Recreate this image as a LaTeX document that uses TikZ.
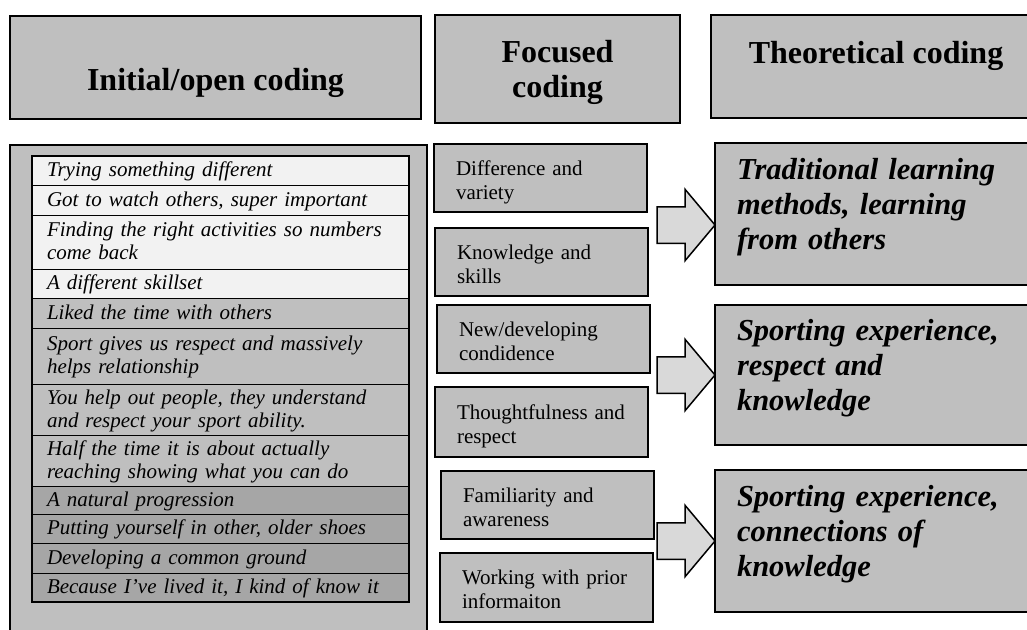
\documentclass[tikz,border=0pt]{standalone}
\usepackage{fontspec}
\setmainfont{Liberation Serif}
\usepackage{xcolor}
\usetikzlibrary{positioning,shapes.arrows}
\definecolor{boxgray}{HTML}{BFBFBF}
\definecolor{rowlight}{HTML}{F2F2F2}
\definecolor{rowdark}{HTML}{A6A6A6}
\definecolor{arrowgray}{HTML}{D9D9D9}
\newcommand{\headfont}{\fontsize{32}{35}\selectfont\bfseries}
\newcommand{\rowfont}{\fontsize{21}{23}\selectfont\itshape}
\newcommand{\focusfont}{\fontsize{21}{24}\selectfont}
\newcommand{\theoryfont}{\fontsize{30.5}{35}\selectfont\bfseries\itshape}

\begin{document}
\begin{tikzpicture}[x=1pt, y=-1pt, node distance=0pt, outer sep=0pt,
  header/.style={draw, line width=2.2pt, fill=boxgray, inner sep=0pt, font=\headfont, anchor=north west},
  rowbox/.style={draw, line width=0.8pt, text width=347pt, inner xsep=15pt, inner ysep=0pt,
    align=left, font=\rowfont, text height=16pt, text depth=4pt},
  tworow/.style={rowbox, text depth=27pt},
  focusbox/.style={draw, line width=1.8pt, fill=boxgray, text width=169pt, inner xsep=22pt, inner ysep=0pt,
    align=left, font=\focusfont, text height=22.5pt, text depth=28.5pt, minimum height=68pt, anchor=north west},
  theorybox/.style={draw, line width=1.8pt, fill=boxgray, text width=282pt, inner xsep=22pt, inner ysep=0pt,
    align=left, font=\theoryfont, text height=20pt, text depth=90pt, anchor=north west},
  bigarrow/.style={single arrow, draw, line width=1.5pt, fill=arrowgray, inner xsep=0pt, inner ysep=17.5pt,
    text height=0pt, text depth=0pt, minimum height=58pt, single arrow head extend=17.5pt,
    single arrow tip angle=100, anchor=tip}]
\useasboundingbox (0,0) rectangle (1027,629);
\clip (0,0) rectangle (1027,629);

% headings
\node[header, minimum width=411pt, minimum height=103pt, text height=52pt, text depth=7pt] (hinit) at (10,16) {Initial/open coding};
\node[header, minimum width=245pt, minimum height=108pt, text width=245pt, align=center, text height=30pt, text depth=43pt] (hfocus) at (435,15) {Focused\\coding};
\node[header, minimum width=330pt, minimum height=103pt, text height=22pt, text depth=29pt] (htheory) at (711,15) {Theoretical coding};

% open codes
\node[draw, line width=2pt, fill=boxgray, minimum width=417pt, minimum height=520pt, anchor=north west] (codes) at (10,145) {};
\node[rowbox, fill=rowlight, minimum height=29pt, anchor=north west] (r1) at (32,156) {Trying something different};
\node[rowbox, fill=rowlight, minimum height=30pt, below=of r1] (r2) {Got to watch others, super important};
\node[tworow, fill=rowlight, minimum height=54pt, below=of r2] (r3) {Finding the right activities so numbers\\come back};
\node[rowbox, fill=rowlight, minimum height=29pt, below=of r3] (r4) {A different skillset};
\node[rowbox, fill=boxgray, minimum height=30pt, below=of r4] (r5) {Liked the time with others};
\node[tworow, fill=boxgray, minimum height=56pt, below=of r5] (r6) {Sport gives us respect and massively\\helps relationship};
\node[tworow, fill=boxgray, minimum height=51pt, below=of r6] (r7) {You help out people, they understand\\and respect your sport ability.};
\node[tworow, fill=boxgray, minimum height=51pt, below=of r7] (r8) {Half the time it is about actually\\reaching showing what you can do};
\node[rowbox, fill=rowdark, minimum height=28pt, below=of r8] (r9) {A natural progression};
\node[rowbox, fill=rowdark, minimum height=29pt, below=of r9] (r10) {Putting yourself in other, older shoes};
\node[rowbox, fill=rowdark, minimum height=30pt, below=of r10] (r11) {Developing a common ground};
\node[rowbox, fill=rowdark, minimum height=29pt, below=of r11] (r12) {Because I’ve lived it, I kind of know it};
\draw[line width=1.8pt] (r1.north west) rectangle (r12.south east);

% focused codes
\node[focusbox] (f1) at (434,144) {Difference and\\variety};
\node[focusbox, below right=16pt and 1pt of f1.south west] (f2) {Knowledge and\\skills};
\node[focusbox, below right=9pt and 2pt of f2.south west] (f3) {New/developing\\condidence};
\node[focusbox, minimum height=70pt, below right=14pt and -2pt of f3.south west] (f4) {Thoughtfulness and\\respect};
\node[focusbox, below right=14pt and 6pt of f4.south west] (f5) {Familiarity and\\awareness};
\node[focusbox, minimum height=69pt, below right=14pt and -1pt of f5.south west] (f6) {Working with prior\\informaiton};

% theoretical codes
\node[theorybox, minimum height=142pt] (t1) at (715,143) {Traditional learning\\methods, learning\\from others};
\node[theorybox, minimum height=140pt] (t2) at (715,305) {Sporting experience,\\respect and\\knowledge};
\node[theorybox, minimum height=142pt] (t3) at (715,470) {Sporting experience,\\connections of\\knowledge};

% block arrows
\node[bigarrow] (a1) at ([yshift=-11pt]t1.west) {};
\node[bigarrow] (a2) at (t2.west) {};
\node[bigarrow] (a3) at (t3.west) {};
\end{tikzpicture}
\end{document}
